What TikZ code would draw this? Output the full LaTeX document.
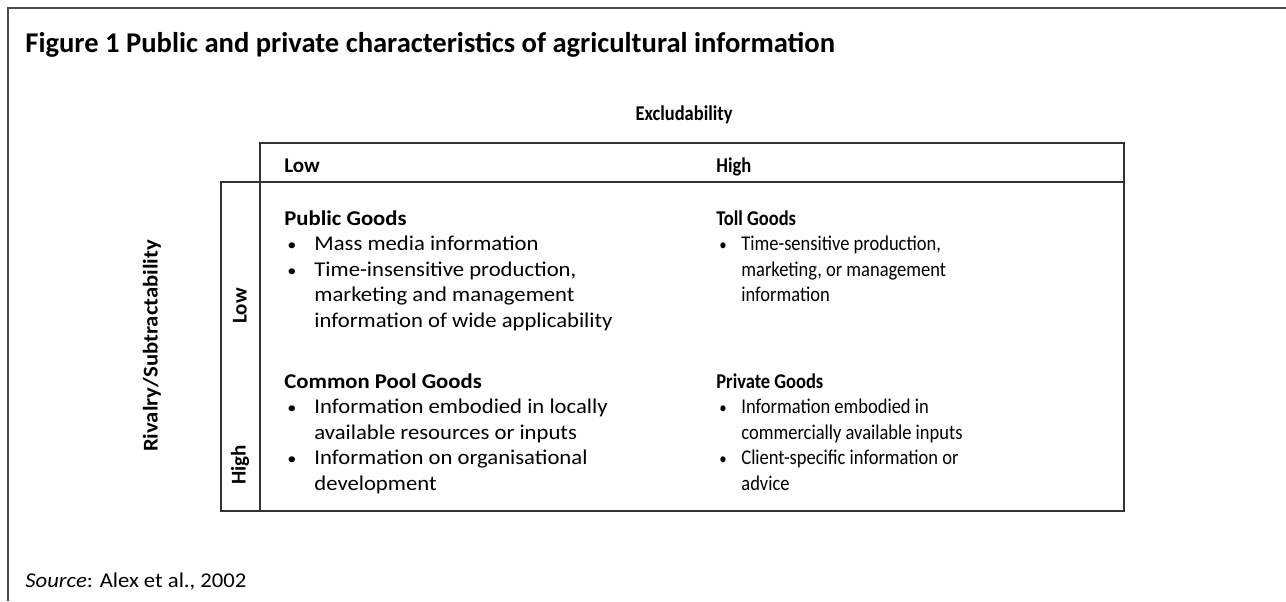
\documentclass[tikz,border=0pt]{standalone}
\usepackage{fontspec}
\setmainfont{Carlito}
\newfontfamily\widefont[FakeStretch=1.08]{Carlito}
\newfontfamily\narrowfont[FakeStretch=0.88]{Carlito}
\usetikzlibrary{positioning}

\newcommand{\bul}[1]{\makebox[#1][l]{\hspace{1.5pt}\scalebox{0.8}{\textbullet}}}

\begin{document}
\begin{tikzpicture}[
		x=0.5pt, y=-0.5pt,
		frameline/.style={line width=0.8pt, color=black!70},
		tableline/.style={line width=0.6pt, color=black!80},
		lbl/.style={inner sep=0pt, font=\fontsize{10.5}{12.8}\selectfont\bfseries},
		cell/.style={inner sep=0pt, anchor=north west, align=left, font=\widefont\fontsize{10.5}{12.8}\selectfont},
		rcell/.style={cell, font=\narrowfont\fontsize{10.5}{12.8}\selectfont},
		]
		\useasboundingbox (0,0) rectangle (1286,601);
		
		%frame
		\draw[frameline] (8,601) -- (8,8) -- (1286,8);
		\node[inner sep=0pt, anchor=base west, font=\fontsize{14.3}{16}\selectfont\bfseries] (title) at (25,52) {Figure 1 Public and private characteristics of agricultural information};
		
		%table
		\draw[tableline] (260,511) -- (260,143) -- (1124,143) -- (1124,511) -- (221,511) -- (221,182) -- (1124,182);
		
		%axis labels
		\node[lbl, anchor=base, font=\narrowfont\fontsize{10.5}{12.8}\selectfont\bfseries] (excl) at (684,120) {Excludability};
		\node[lbl, anchor=base west] (lowx) at (284,172) {Low};
		\node[lbl, anchor=base west, font=\narrowfont\fontsize{10.5}{12.8}\selectfont\bfseries] (highx) at (716,172) {High};
		\node[lbl, rotate=90, font=\widefont\fontsize{10.5}{12.8}\selectfont\bfseries] (rival) at (152,346) {Rivalry/Subtractability};
		\node[lbl, rotate=90] (lowy) at (240,306) {Low};
		\node[lbl, rotate=90] (highy) at (240,465) {High};
		
		%cells
		\node[cell] (public) at (284,210) {\textbf{Public Goods}\\
			\bul{15pt}Mass media information\\
			\bul{15pt}Time-insensitive production,\\
			\hspace*{15pt}marketing and management\\
			\hspace*{15pt}information of wide applicability};
		\node[rcell] (toll) at (716,210) {\textbf{Toll Goods}\\
			\bul{12.5pt}Time-sensitive production,\\
			\hspace*{12.5pt}marketing, or management\\
			\hspace*{12.5pt}information};
		\node[cell] (pool) at (284,373) {\textbf{Common Pool Goods}\\
			\bul{15pt}Information embodied in locally\\
			\hspace*{15pt}available resources or inputs\\
			\bul{15pt}Information on organisational\\
			\hspace*{15pt}development};
		\node[rcell] (private) at (716,373) {\textbf{Private Goods}\\
			\bul{12.5pt}Information embodied in\\
			\hspace*{12.5pt}commercially available inputs\\
			\bul{12.5pt}Client-specific information or\\
			\hspace*{12.5pt}advice};
		
		%source
		\node[inner sep=0pt, anchor=base west, font=\widefont\fontsize{10.5}{12.8}\selectfont] (source) at (25,587) {\textit{Source}: Alex et al., 2002};
	\end{tikzpicture}
\end{document}
